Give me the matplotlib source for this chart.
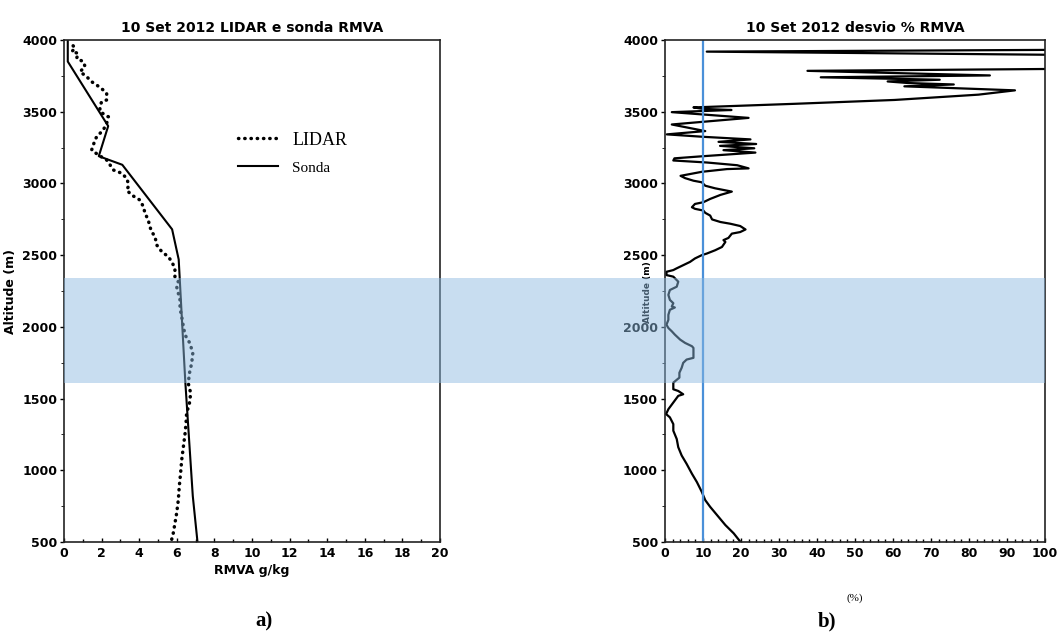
import matplotlib
matplotlib.use("Agg")
import matplotlib.pyplot as plt
import matplotlib.transforms as mtransforms
from matplotlib.patches import Rectangle
from matplotlib.ticker import MultipleLocator

# ---------------- data ----------------
lidar_alt = [519, 561, 630, 700, 793, 886, 979, 1072, 1165, 1258, 1328, 1397, 1467, 1537,
             1606, 1676, 1746, 1816, 1885, 1943, 2001, 2071, 2129, 2187, 2234, 2280, 2315,
             2350, 2408, 2454, 2489, 2524, 2571, 2629, 2664, 2698, 2745, 2792, 2838, 2884,
             2919, 2954, 2977, 3001, 3036, 3071, 3094, 3129, 3163, 3198, 3233, 3268, 3303,
             3326, 3373, 3419, 3465, 3500, 3535, 3570, 3582, 3628, 3651, 3686, 3709, 3744,
             3779, 3814, 3849, 3872, 3907, 3919, 3942, 3988]
lidar_val = [5.73, 5.81, 5.90, 5.99, 6.08, 6.13, 6.20, 6.26, 6.35, 6.44, 6.49, 6.52, 6.67, 6.74,
             6.61, 6.67, 6.79, 6.85, 6.70, 6.44, 6.35, 6.26, 6.17, 6.17, 6.08, 5.99, 6.08,
             5.90, 5.90, 5.73, 5.55, 5.20, 4.93, 4.84, 4.66, 4.57, 4.48, 4.31, 4.22, 4.04,
             3.60, 3.33, 3.42, 3.42, 3.33, 3.07, 2.62, 2.45, 2.27, 1.83, 1.47, 1.56, 1.65,
             1.74, 2.09, 2.27, 2.36, 1.91, 1.91, 2.00, 2.27, 2.27, 2.09, 1.74, 1.47, 1.21,
             0.85, 1.12, 1.03, 0.67, 0.76, 0.41, 0.59, 0.32]

sonda_alt = [500, 820, 1620, 2470, 2680, 3130, 3190, 3400, 3850, 4000]
sonda_val = [7.1, 6.85, 6.45, 6.1, 5.75, 3.1, 1.85, 2.35, 0.2, 0.2]

desvio_alt = [503, 560, 618, 688, 745, 792, 849, 918, 976, 1045, 1103, 1161, 1218, 1276,
              1322, 1369, 1392, 1426, 1472, 1519, 1530, 1553, 1565, 1611, 1646, 1680, 1715,
              1749, 1772, 1784, 1853, 1865, 1888, 1911, 1946, 1969, 1992, 2015, 2049, 2084,
              2119, 2135, 2142, 2165, 2188, 2223, 2257, 2280, 2315, 2350, 2361, 2384, 2396,
              2407, 2430, 2453, 2477, 2500, 2511, 2534, 2557, 2592, 2605, 2620, 2650, 2661,
              2679, 2703, 2719, 2731, 2749, 2776, 2795, 2811, 2823, 2834, 2857, 2869, 2892,
              2920, 2943, 2966, 2984, 3008, 3019, 3037, 3053, 3081, 3100, 3105, 3127, 3146,
              3160, 3175, 3190, 3215, 3232, 3245, 3262, 3275, 3290, 3307, 3325, 3342, 3365,
              3411, 3457, 3497, 3512, 3520, 3530, 3555, 3582, 3619, 3649, 3677, 3690, 3700,
              3711, 3723, 3740, 3753, 3785, 3804, 3890, 3919, 3935, 4000]
desvio_val = [19.8, 18.1, 15.9, 13.7, 11.9, 10.6, 9.7, 8.4, 7.1, 5.7, 4.4, 3.5, 3.1, 2.2,
              2.2, 1.3, 0.3, 0.9, 2.2, 3.5, 4.8, 3.5, 2.2, 2.2, 3.8, 3.8, 4.4,
              4.8, 5.7, 7.5, 7.5, 7.1, 5.3, 4.0, 2.6, 1.8, 0.9, 0.4, 0.9, 0.9,
              1.3, 2.6, 1.8, 2.2, 1.3, 0.9, 1.3, 3.1, 3.5, 2.2, 0.4, 0.4, 2.2,
              3.0, 4.8, 6.6, 7.9, 9.7, 11.0, 13.2, 15.0, 15.9, 15.4, 16.7, 17.6, 19.8,
              21.2, 19.8, 17.2, 14.6, 12.4, 11.9, 10.6, 10.1, 7.9, 7.1, 7.9, 10.1, 11.9,
              14.6, 17.6, 13.2, 10.6, 9.7, 7.5, 5.3, 4.1, 9.7, 16.3, 22.0, 19.0, 11.0,
              2.2, 2.5, 10.1, 23.8, 15.4, 23.5, 14.5, 24.0, 14.1, 22.5, 10.1, 0.5, 10.6,
              1.8, 22.0, 1.8, 17.5, 10.0, 7.5, 34.0, 60.4, 82.5, 92.1, 63.0, 76.0, 64.0,
              58.6, 72.3, 41.0, 85.5, 37.5, 130.0, 130.0, 11.0, 130.0, 130.0]

limite_pct = 10
band_alt = (1610, 2340)
y_ticks = [500, 1000, 1500, 2000, 2500, 3000, 3500, 4000]
x_ticks_a = [0, 2, 4, 6, 8, 10, 12, 14, 16, 18, 20]
x_ticks_b = [0, 10, 20, 30, 40, 50, 60, 70, 80, 90, 100]

# ---------------- figure ----------------
fig = plt.figure(figsize=(10.58, 6.32), dpi=100)
ax1 = fig.add_axes([0.0605, 0.1424, 0.3554, 0.7943])
ax2 = fig.add_axes([0.6285, 0.1424, 0.3592, 0.7943])

bold = dict(fontweight="bold", family="DejaVu Sans")

# Panel a
ax1.plot(lidar_val, lidar_alt, color="black", lw=2.5, linestyle=(0, (0.1, 1.7)),
         dash_capstyle="round", label="LIDAR")
ax1.plot(sonda_val, sonda_alt, color="black", lw=1.5, label="Sonda")
ax1.set_xlim(0, 20)
ax1.set_ylim(500, 4000)
ax1.set_xticks(x_ticks_a)
ax1.set_yticks(y_ticks)
ax1.xaxis.set_minor_locator(MultipleLocator(1))
ax1.yaxis.set_minor_locator(MultipleLocator(250))
ax1.set_title("10 Set 2012 LIDAR e sonda RMVA", fontsize=10, pad=6, **bold)
ax1.set_xlabel("RMVA g/kg", fontsize=9, labelpad=3, **bold)
ax1.set_ylabel("Altitude (m)", fontsize=9, **bold)
ax1.yaxis.set_label_coords(-0.125, 0.5)
leg = ax1.legend(loc="upper left", bbox_to_anchor=(0.42, 0.85), frameon=False,
                 prop={"family": "Liberation Serif", "size": 13}, handlelength=2.2,
                 handletextpad=0.8, labelspacing=0.6)
leg.get_texts()[1].set_fontsize(11)

# Panel b
ax2.plot(desvio_val, desvio_alt, color="black", lw=1.6)
ax2.axvline(limite_pct, color="#4a90d9", lw=1.6)
ax2.set_xlim(0, 100)
ax2.set_ylim(500, 4000)
ax2.set_xticks(x_ticks_b)
ax2.set_yticks(y_ticks)
ax2.xaxis.set_minor_locator(MultipleLocator(2))
ax2.yaxis.set_minor_locator(MultipleLocator(250))
ax2.set_title("10 Set 2012 desvio % RMVA", fontsize=10, pad=6, **bold)
ax2.set_xlabel("(%)", fontsize=8, family="Liberation Serif", labelpad=24)
ax2.set_ylabel("Altitude (m)", fontsize=6.5, **bold)
ax2.yaxis.set_label_coords(-0.035, 0.497)

for ax in (ax1, ax2):
    for lab in ax.get_xticklabels() + ax.get_yticklabels():
        lab.set_fontweight("bold")
        lab.set_fontsize(9)
    ax.tick_params(axis="x", which="both", direction="in", length=3, width=1)
    ax.tick_params(axis="x", which="minor", length=2)
    ax.tick_params(axis="y", which="major", direction="out", length=3, width=1, pad=2)
    ax.tick_params(axis="y", which="minor", direction="out", length=2)
    for s in ax.spines.values():
        s.set_linewidth(1.2)
        s.set_color("#222222")

# highlight band across both panels
trans = mtransforms.blended_transform_factory(fig.transFigure, ax1.transData)
x0 = ax1.get_position().x0
x1 = ax2.get_position().x1
band = Rectangle((x0, band_alt[0]), x1 - x0, band_alt[1] - band_alt[0], transform=trans,
                 facecolor="#8cb9e0", alpha=0.48, edgecolor="none", zorder=10)
fig.patches.append(band)

fig.text(0.241, 0.008, "a)", fontsize=15, fontweight="bold", family="Liberation Serif")
fig.text(0.773, 0.008, "b)", fontsize=15, fontweight="bold", family="Liberation Serif")

fig.savefig("out.png", dpi=100)
